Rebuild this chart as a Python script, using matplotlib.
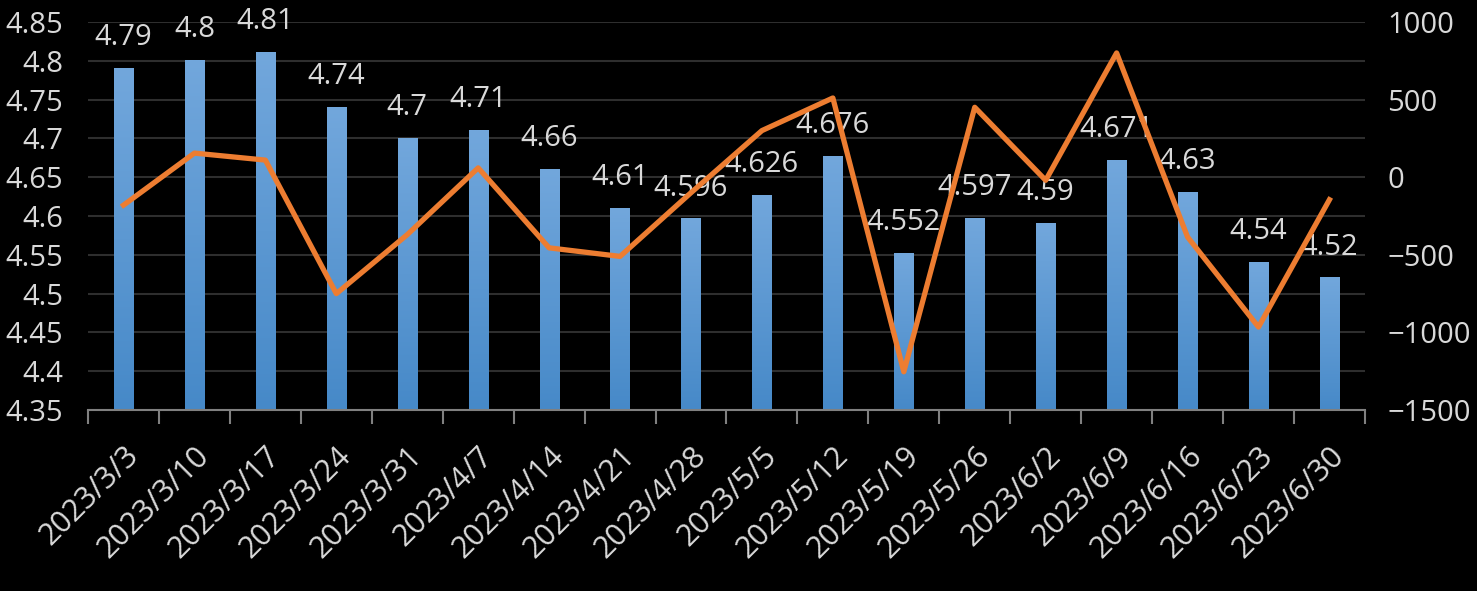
import matplotlib.pyplot as plt
import numpy as np
from matplotlib.colors import LinearSegmentedColormap

dates = ['2023/3/3', '2023/3/10', '2023/3/17', '2023/3/24', '2023/3/31', '2023/4/7',
         '2023/4/14', '2023/4/21', '2023/4/28', '2023/5/5', '2023/5/12', '2023/5/19',
         '2023/5/26', '2023/6/2', '2023/6/9', '2023/6/16', '2023/6/23', '2023/6/30']
bar_vals = [4.79, 4.8, 4.81, 4.74, 4.7, 4.71, 4.66, 4.61, 4.596, 4.626, 4.676, 4.552,
            4.597, 4.59, 4.671, 4.63, 4.54, 4.52]
bar_labels = ['4.79', '4.8', '4.81', '4.74', '4.7', '4.71', '4.66', '4.61', '4.596', '4.626',
              '4.676', '4.552', '4.597', '4.59', '4.671', '4.63', '4.54', '4.52']
line_vals = [-180, 155, 110, -750, -370, 60, -455, -510, -100, 300, 510, -1253,
             450, -20, 800, -385, -965, -145]

plt.rcParams['font.family'] = ['Open Sans', 'DejaVu Sans']
txt = '#D9D9D9'

fig = plt.figure(figsize=(14.77, 5.91), dpi=100, facecolor='black')
ax = fig.add_axes([0.0596, 0.306, 0.8645, 0.657])
ax.set_facecolor('black')
x = np.arange(len(dates))
ylo, yhi = 4.35, 4.85
w = 0.27

# gradient bars: lighter at top, darker at bottom
grad = np.linspace(0, 1, 256).reshape(-1, 1)
cmap = LinearSegmentedColormap.from_list('b', ['#4689C8', '#72A7DC'])
for xi, v in zip(x, bar_vals):
    ax.imshow(grad, cmap=cmap, origin='lower', aspect='auto',
              extent=(xi - w / 2, xi + w / 2, ylo, v), zorder=2)
for xi, v, lab in zip(x, bar_vals, bar_labels):
    ax.text(xi, v + 0.04, lab, ha='center', va='center', color=txt, fontsize=21, zorder=5)

ax.set_xlim(-0.5, len(dates) - 0.5)
ax.set_ylim(ylo, yhi)
ax.set_yticks(np.arange(4.35, 4.851, 0.05))
ax.set_yticklabels(['4.35', '4.4', '4.45', '4.5', '4.55', '4.6', '4.65', '4.7',
                    '4.75', '4.8', '4.85'])
ax.grid(axis='y', color='#2E2E2E', linewidth=1.5, zorder=0)
ax.set_axisbelow(True)
ax.set_xticks(x)
ax.set_xticklabels(dates, rotation=45, ha='right', rotation_mode='anchor')
ax.set_xticks(np.arange(-0.5, len(dates), 1), minor=True)
ax.tick_params(axis='x', which='major', length=0, pad=22, labelsize=22, labelcolor=txt)
ax.tick_params(axis='x', which='minor', length=10, width=1.5, color='#808080')
ax.tick_params(axis='y', length=0, pad=18, labelsize=21, labelcolor=txt)
for s in ['top', 'right', 'left']:
    ax.spines[s].set_visible(False)
ax.spines['bottom'].set_color('#808080')
ax.spines['bottom'].set_linewidth(1.5)

ax2 = ax.twinx()
ax2.plot(x, line_vals, color='#ED7D31', linewidth=3.8, solid_joinstyle='round', zorder=4)
ax2.set_ylim(-1500, 1000)
ax2.set_yticks(np.arange(-1500, 1001, 500))
ax2.tick_params(axis='y', length=0, pad=16, labelsize=21, labelcolor=txt)
for s in ax2.spines.values():
    s.set_visible(False)

fig.savefig('out.png', dpi=100, facecolor='black')
